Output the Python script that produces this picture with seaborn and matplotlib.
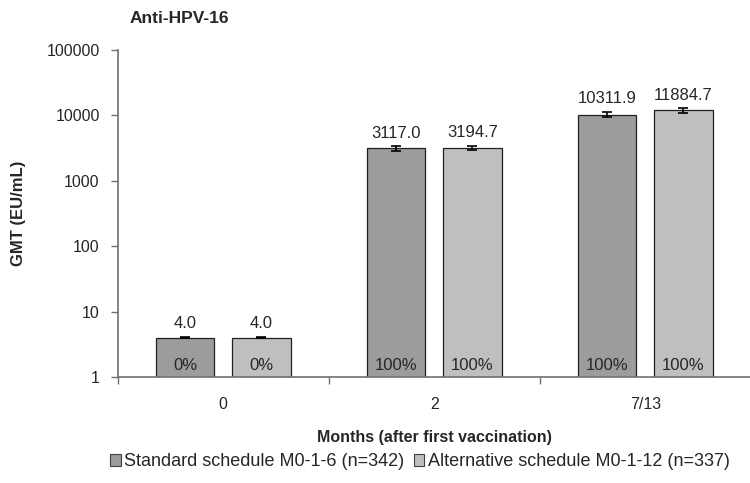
import numpy as np
import pandas as pd
import matplotlib
matplotlib.use("Agg")
import matplotlib.pyplot as plt
import seaborn as sns
from matplotlib.ticker import FixedLocator, FuncFormatter

# data
months = ["0", "2", "7/13"]
groups = ["Standard schedule M0-1-6 (n=342)", "Alternative schedule M0-1-12 (n=337)"]
gmt_std = [4.0, 3117.0, 10311.9]
gmt_alt = [4.0, 3194.7, 11884.7]
lo_std = [3.9, 2900.0, 9450.0]
hi_std = [4.1, 3350.0, 11250.0]
lo_alt = [3.9, 2960.0, 10950.0]
hi_alt = [4.1, 3450.0, 12900.0]
pct_std = ["0%", "100%", "100%"]
pct_alt = ["0%", "100%", "100%"]

df = pd.DataFrame({
    "Month": months * 2,
    "Group": [groups[0]] * 3 + [groups[1]] * 3,
    "GMT": gmt_std + gmt_alt,
})

sns.set_style("white")
plt.rcParams["font.family"] = ["Liberation Sans", "DejaVu Sans"]

fig = plt.figure(figsize=(7.5, 4.83), dpi=100)
ax = fig.add_axes([0.157, 0.2195, 0.844, 0.677])

sns.barplot(data=df, x="Month", y="GMT", hue="Group", order=months, hue_order=groups,
            palette=["#9c9c9c", "#bfbfbf"], edgecolor="#202020", linewidth=0.9,
            width=0.725, gap=0.23, errorbar=None, log_scale=(False, True), ax=ax)

ax.set_yscale("log")
ax.set_ylim(1, 100000)
ax.set_xlim(-0.5, 2.5)

# error bars, value labels and percentages
lows = [lo_std, lo_alt]
highs = [hi_std, hi_alt]
vals = [gmt_std, gmt_alt]
pcts = [pct_std, pct_alt]
bar_groups = list(ax.containers[:2])
for gi, cont in enumerate(bar_groups):
    for i, bar in enumerate(cont):
        xc = bar.get_x() + bar.get_width() / 2
        v = vals[gi][i]
        ax.errorbar(xc, v, yerr=[[v - lows[gi][i]], [highs[gi][i] - v]],
                    fmt="none", ecolor="black", elinewidth=1.2, capsize=3.5, capthick=1.2)
        ax.text(xc, highs[gi][i] * 1.22, f"{v:.1f}", ha="center", va="bottom", fontsize=12)
        ax.text(xc, 1.16, pcts[gi][i], ha="center", va="bottom", fontsize=12)

ax.yaxis.set_major_locator(FixedLocator([1, 10, 100, 1000, 10000, 100000]))
ax.yaxis.set_minor_locator(FixedLocator([]))
ax.yaxis.set_major_formatter(FuncFormatter(lambda y, p: f"{int(y)}"))
ax.tick_params(axis="y", left=True, length=5, width=1, color="#707070", labelsize=11.5, pad=8)

ax.set_xticks([0, 1, 2])
ax.set_xticks([-0.5, 0.5, 1.5, 2.5], minor=True)
ax.tick_params(axis="x", which="major", bottom=False, labelsize=11.5, pad=11)
ax.tick_params(axis="x", which="minor", bottom=True, length=5, width=1, color="#707070")

for side in ["top", "right"]:
    ax.spines[side].set_visible(False)
for side in ["left", "bottom"]:
    ax.spines[side].set_color("#707070")
    ax.spines[side].set_linewidth(1.2)

ax.set_xlabel("Months (after first vaccination)", fontsize=11.5, fontweight="bold", labelpad=13)
ax.set_ylabel("GMT (EU/mL)", fontsize=12, fontweight="bold", labelpad=15)
fig.text(0.173, 0.962, "Anti-HPV-16", fontsize=12.5, fontweight="bold", ha="left", va="center")

ax.legend_.remove()
handles = [plt.Rectangle((0, 0), 1, 1, facecolor=c, edgecolor="#404040", linewidth=0.8)
           for c in ["#9c9c9c", "#bfbfbf"]]
fig.legend(handles, groups, loc="center", bbox_to_anchor=(0.56, 0.044), ncol=2, frameon=False,
           fontsize=13, handlelength=0.6, handleheight=0.6, handletextpad=0.2, columnspacing=0.5)

fig.savefig("out.png", dpi=100)
